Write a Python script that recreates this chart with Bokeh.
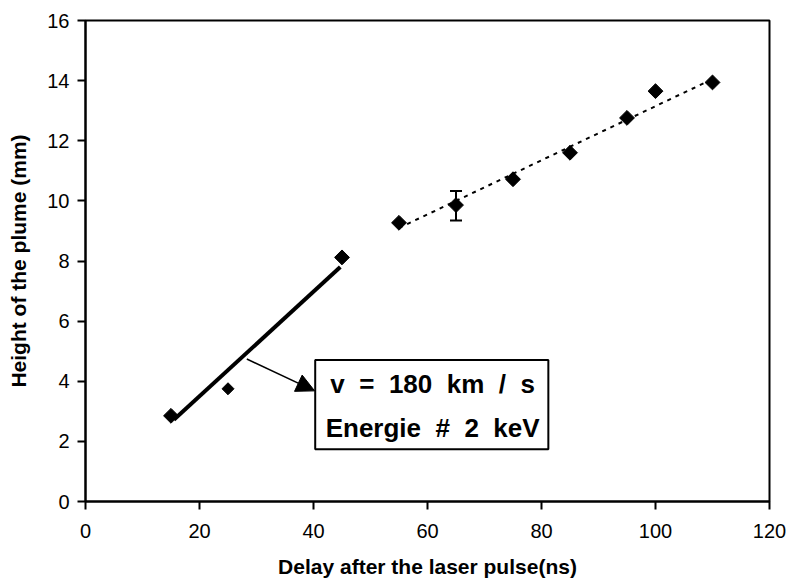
import numpy as np
from bokeh.plotting import figure
from bokeh.models import (Range1d, Whisker, TeeHead, ColumnDataSource, Label, Arrow,
                          NormalHead, BoxAnnotation, FixedTicker)
from bokeh.embed import file_html
from bokeh.resources import INLINE

# ---- data ----
delay_ns = [15, 25, 45, 55, 65, 75, 85, 95, 100, 110]
height_mm = [2.85, 3.75, 8.12, 9.27, 9.86, 10.72, 11.6, 12.76, 13.65, 13.94]

err_x = [65]
err_low = [9.35]
err_high = [10.33]

# fitted trend lines (as drawn in the reference)
fast_fit_x = [15.5, 44.7]
fast_fit_y = [2.72, 7.8]
slow_fit_x = [55, 110]
slow_fit_y = [9.1, 14.05]

x_ticks = [0, 20, 40, 60, 80, 100, 120]
y_ticks = [0, 2, 4, 6, 8, 10, 12, 14, 16]

NB = "\u00a0"
note_lines = [f"v{NB} ={NB} 180{NB} km{NB} /{NB} s", f"Energie{NB} #{NB} 2{NB} keV"]

# ---- styling ----
FONT = "Liberation Sans"
marker_sizes = [10.5, 8.5, 10.5, 10.5, 10.5, 10.5, 10.5, 10.5, 10.5, 10.5]

p = figure(width=788, height=583, output_backend="svg", toolbar_location=None,
           x_range=Range1d(0, 120), y_range=Range1d(0, 16),
           min_border_left=85, min_border_right=19, min_border_top=20, min_border_bottom=82)
p.background_fill_color = "white"
p.border_fill_color = "white"
p.outline_line_color = "black"
p.outline_line_width = 2
p.grid.visible = False

for ax in (p.xaxis[0], p.yaxis[0]):
    ax.axis_line_width = 2
    ax.axis_line_color = "black"
    ax.major_tick_line_width = 2
    ax.major_tick_in = 0
    ax.major_tick_out = 8
    ax.minor_tick_line_color = None
    ax.major_label_text_font = FONT
    ax.major_label_text_font_size = "20px"
    ax.major_label_text_color = "black"
    ax.axis_label_text_font = FONT
    ax.axis_label_text_font_size = "21px"
    ax.axis_label_text_font_style = "bold"
    ax.axis_label_text_color = "black"

p.xaxis.ticker = FixedTicker(ticks=x_ticks)
p.yaxis.ticker = FixedTicker(ticks=y_ticks)
p.xaxis.major_label_standoff = 14
p.yaxis.major_label_standoff = 8
p.xaxis.axis_label = "Delay after the laser pulse(ns)"
p.yaxis.axis_label = "Height of the plume (mm)"
p.xaxis.axis_label_standoff = 14
p.yaxis.axis_label_standoff = 14

# fast regime fit (solid)
p.line(fast_fit_x, fast_fit_y, line_color="black", line_width=4)

# slow regime trend (dotted)
p.line(slow_fit_x, slow_fit_y, line_color="black", line_width=2, line_dash="4 5")

# error bar
esrc = ColumnDataSource(dict(x=err_x, lower=err_low, upper=err_high))
p.add_layout(Whisker(source=esrc, base="x", lower="lower", upper="upper",
                     line_color="black", line_width=2,
                     upper_head=TeeHead(size=12, line_width=2, line_color="black"),
                     lower_head=TeeHead(size=12, line_width=2, line_color="black")))

# data points (diamonds)
src = ColumnDataSource(dict(x=delay_ns, y=height_mm, s=marker_sizes))
p.scatter("x", "y", source=src, marker="square", angle=np.pi / 4, size="s",
          fill_color="black", line_color="black")

# annotation box
p.add_layout(BoxAnnotation(left=40.3, right=81.2, bottom=1.74, top=4.71,
                           fill_color="white", fill_alpha=1.0,
                           line_color="black", line_width=2, line_alpha=1.0))
p.add_layout(Arrow(end=NormalHead(size=18, fill_color="black", line_color="black"),
                   x_start=28.3, y_start=4.74, x_end=40.2, y_end=3.68,
                   line_color="black", line_width=1.5))
for txt, yy in zip(note_lines, (3.9, 2.43)):
    p.add_layout(Label(x=60.9, y=yy, text=txt, text_align="center", text_baseline="middle",
                       text_font=FONT, text_font_size="26px", text_font_style="bold",
                       text_color="black"))

open("out.html", "w").write(file_html(p, INLINE))
